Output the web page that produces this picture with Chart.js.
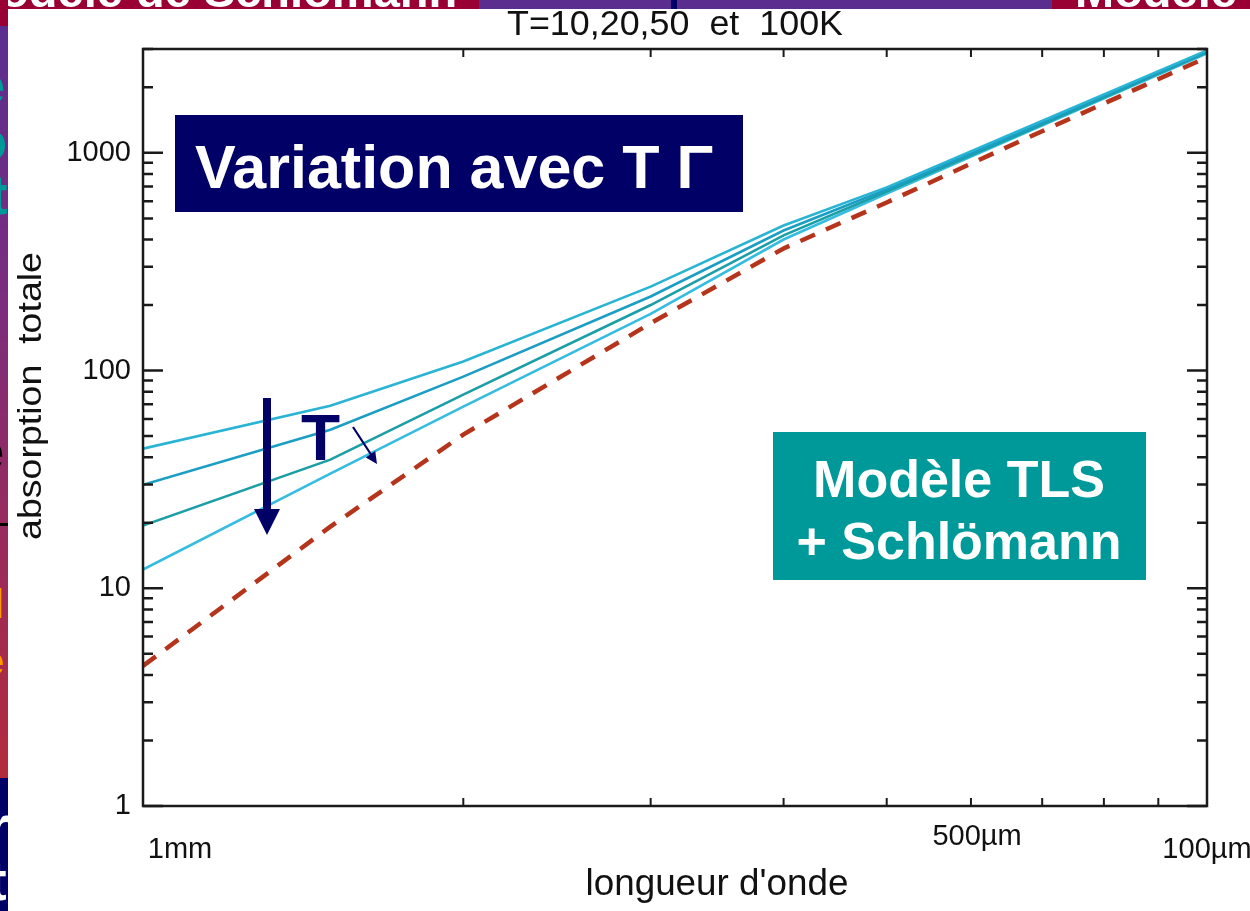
<!DOCTYPE html>
<html><head><meta charset="utf-8">
<script src="https://cdn.jsdelivr.net/npm/chart.js@4.4.1/dist/chart.umd.min.js"></script>
<style>html,body{margin:0;padding:0;background:#fff;overflow:hidden}canvas{display:block}</style>
</head><body>
<canvas id="c" width="1250" height="911"></canvas>
<script>
// ---- data (frequency axis, GHz: 300 = 1mm, 3000 = 100µm) ----
const frequencies = [300, 450, 600, 900, 1200, 1500, 2000, 3000];
const tls10K    = [43.8, 69, 110, 243, 464, 694, 1269, 2958];
const tls20K    = [29.9, 53.5, 93.8, 219, 440, 679, 1241, 2929];
const tls50K    = [19.4, 39, 77.6, 200, 418, 665, 1216, 2897];
const tls100K   = [12.2, 33.6, 68.3, 182, 400, 651, 1203, 2866];
const schlomann = [4.40, 19.2, 50.8, 165, 364, 592, 1130, 2749];
const yTickLabels = [1, 10, 100, 1000];
const xLabelValues = [325, 1824, 3000];
const xLabelTexts = ['1mm', '500µm', '100µm'];
const titleText = 'T=10,20,50  et  100K';
const xTitle = "longueur d'onde";
const yTitle = 'absorption  totale';

const FONT = "'Liberation Sans', Arial, Helvetica, sans-serif";
const NAVY = '#000066';
const pts = arr => frequencies.map((f, i) => ({x: f, y: arr[i]}));
const isPow10 = v => Math.abs(Math.log10(v) - Math.round(Math.log10(v))) < 1e-9;

function fitText(ctx, text, x, y, font, color, targetW, align) {
  ctx.save();
  ctx.font = font; ctx.fillStyle = color; ctx.textBaseline = 'alphabetic'; ctx.textAlign = 'left';
  const w = ctx.measureText(text).width;
  const sx = targetW ? targetW / w : 1;
  const ww = w * sx;
  let x0 = x;
  if (align === 'center') x0 = x - ww / 2; else if (align === 'right') x0 = x - ww;
  ctx.translate(x0, y); ctx.scale(sx, 1);
  ctx.fillText(text, 0, 0);
  ctx.restore();
}

const decorPlugin = {
  id: 'decor',
  beforeDraw(chart) {
    const ctx = chart.ctx;
    ctx.save();
    ctx.fillStyle = '#ffffff'; ctx.fillRect(0, 0, 1250, 911);
    // top banner
    ctx.fillStyle = '#990033'; ctx.fillRect(0, 0, 479, 9);
    ctx.fillStyle = '#5b2d8e'; ctx.fillRect(479, 0, 573, 9);
    ctx.fillStyle = NAVY; ctx.fillRect(671, 0, 6, 9);
    ctx.fillStyle = '#990033'; ctx.fillRect(1052, 0, 198, 9);
    ctx.font = 'bold 47px ' + FONT; ctx.fillStyle = '#ffffff';
    ctx.fillText('Modèle de Schlömann', -39, 7);
    ctx.fillText('Modèle', 1075, 7);
    // left strip
    ctx.fillStyle = '#990033'; ctx.fillRect(0, 0, 8, 26);
    const g = ctx.createLinearGradient(0, 26, 0, 778);
    g.addColorStop(0, '#5a2e8f'); g.addColorStop(0.36, '#7b2d7e');
    g.addColorStop(0.7, '#9a2a5a'); g.addColorStop(1, '#b32c3c');
    ctx.fillStyle = g; ctx.fillRect(0, 26, 8, 752);
    ctx.fillStyle = NAVY; ctx.fillRect(0, 778, 8, 133);
    ctx.fillStyle = '#000'; ctx.fillRect(0, 523, 8, 3);
    ctx.beginPath(); ctx.rect(0, 0, 8, 911); ctx.clip();
    ctx.font = 'bold 56px ' + FONT;
    ctx.fillStyle = '#009999';
    ctx.fillText('e', -26, 104); ctx.fillText('o', -27, 160); ctx.fillText('t', -11, 214);
    ctx.fillStyle = '#000'; ctx.fillText('e', -27, 470);
    ctx.font = 'bold 40px ' + FONT; ctx.fillStyle = '#ff9900';
    ctx.fillText('l', -7, 618); ctx.fillText('é', -18, 675);
    ctx.font = 'bold 56px ' + FONT; ctx.fillStyle = '#ffffff';
    ctx.fillText('r', -12, 845); ctx.fillText('t', -12, 900);
    ctx.restore();
  },
  afterDatasetsDraw(chart) {
    const ctx = chart.ctx, a = chart.chartArea;
    const xs = chart.scales.x, ys = chart.scales.y;
    ctx.save();
    ctx.strokeStyle = '#1a1a1a'; ctx.lineWidth = 2.5; ctx.lineCap = 'butt';
    ctx.strokeRect(a.left, a.top, a.right - a.left, a.bottom - a.top);
    ctx.lineWidth = 2.5;
    ys.ticks.forEach(t => {
      const py = ys.getPixelForValue(t.value);
      const len = isPow10(t.value) ? 20 : 10;
      ctx.beginPath();
      ctx.moveTo(a.left, py); ctx.lineTo(a.left + len, py);
      ctx.moveTo(a.right - len, py); ctx.lineTo(a.right, py);
      ctx.stroke();
    });
    ctx.lineWidth = 2;
    xs.ticks.forEach(t => {
      const px = xs.getPixelForValue(t.value);
      ctx.beginPath();
      ctx.moveTo(px, a.bottom); ctx.lineTo(px, a.bottom - 8);
      ctx.moveTo(px, a.top); ctx.lineTo(px, a.top + 8);
      ctx.stroke();
    });
    ctx.restore();
  },
  afterDraw(chart) {
    const ctx = chart.ctx, a = chart.chartArea, xs = chart.scales.x;
    // title
    fitText(ctx, titleText, (a.left + a.right) / 2, 35, '35px ' + FONT, '#111', 336, 'center');
    // x labels
    const xBase = [858, 845, 858];
    xLabelTexts.forEach((t, i) => {
      fitText(ctx, t, xs.getPixelForValue(xLabelValues[i]), xBase[i], '29px ' + FONT, '#111', null, 'center');
    });
    // axis titles
    fitText(ctx, xTitle, 717, 895, '37px ' + FONT, '#111', 263, 'center');
    ctx.save();
    ctx.translate(41, 396); ctx.rotate(-Math.PI / 2);
    fitText(ctx, yTitle, 0, 0, '33px ' + FONT, '#111', 288, 'center');
    ctx.restore();
    // annotation boxes
    ctx.save();
    ctx.fillStyle = NAVY; ctx.fillRect(175, 115, 568, 97);
    ctx.fillStyle = '#009999'; ctx.fillRect(773, 432, 373, 148);
    ctx.restore();
    fitText(ctx, 'Variation avec T Γ', 195, 188, 'bold 61px ' + FONT, '#ffffff', null, 'left');
    fitText(ctx, 'Modèle TLS', 959, 497, 'bold 52px ' + FONT, '#ffffff', null, 'center');
    fitText(ctx, '+ Schlömann', 959, 559, 'bold 52px ' + FONT, '#ffffff', null, 'center');
    // big down arrow
    ctx.save();
    ctx.fillStyle = NAVY;
    ctx.fillRect(263, 398, 8, 114);
    ctx.beginPath(); ctx.moveTo(254, 509); ctx.lineTo(280, 509); ctx.lineTo(267, 535); ctx.closePath(); ctx.fill();
    // small arrow
    ctx.strokeStyle = NAVY; ctx.lineWidth = 2.2;
    ctx.beginPath(); ctx.moveTo(353, 427); ctx.lineTo(372, 456); ctx.stroke();
    const ang = Math.atan2(463 - 427, 377 - 353);
    ctx.beginPath();
    ctx.moveTo(377, 464);
    ctx.lineTo(377 - 13 * Math.cos(ang - 0.45), 464 - 13 * Math.sin(ang - 0.45));
    ctx.lineTo(377 - 13 * Math.cos(ang + 0.45), 464 - 13 * Math.sin(ang + 0.45));
    ctx.closePath(); ctx.fill();
    ctx.restore();
    fitText(ctx, 'T', 301, 460, 'bold 64px ' + FONT, NAVY, null, 'left');
  }
};

const lineDs = (label, arr, color) => ({
  label, data: pts(arr), borderColor: color, borderWidth: 2.6,
  pointRadius: 0, tension: 0, fill: false
});

new Chart(document.getElementById('c'), {
  type: 'line',
  data: {
    datasets: [
      lineDs('T=10K', tls10K, '#2ab4d4'),
      lineDs('T=20K', tls20K, '#1b9ec4'),
      lineDs('T=50K', tls50K, '#1c9ea6'),
      lineDs('T=100K', tls100K, '#35bce0'),
      { label: 'Schlömann', data: pts(schlomann), borderColor: '#b5351c', borderWidth: 4.5,
        borderDash: [16, 12], pointRadius: 0, tension: 0, fill: false }
    ]
  },
  options: {
    responsive: false, animation: false,
    layout: { padding: { top: 49, right: 43, left: 0, bottom: 0 } },
    plugins: { legend: { display: false }, tooltip: { enabled: false } },
    scales: {
      x: {
        type: 'logarithmic', min: 300, max: 3000,
        grid: { display: false, drawTicks: false }, border: { display: false },
        ticks: { display: false },
        afterBuildTicks: s => { s.ticks = [1,2,3,4,5,6,7,8,9,10].map(k => ({ value: 300 * k })); },
        afterFit: s => { s.height = 105; }
      },
      y: {
        type: 'logarithmic', min: 1, max: 3000,
        grid: { display: false, drawTicks: false }, border: { display: false },
        afterBuildTicks: s => {
          const t = [];
          [1, 10, 100, 1000].forEach(d => { for (let m = 1; m <= 9; m++) if (d * m <= 3000) t.push({ value: d * m }); });
          s.ticks = t;
        },
        ticks: {
          autoSkip: false, padding: 12, color: '#111',
          font: { family: FONT, size: 29 },
          callback: v => (yTickLabels.includes(v) ? String(v) : '')
        },
        afterFit: s => { s.width = 143; }
      }
    }
  },
  plugins: [decorPlugin]
});
</script>
</body></html>
